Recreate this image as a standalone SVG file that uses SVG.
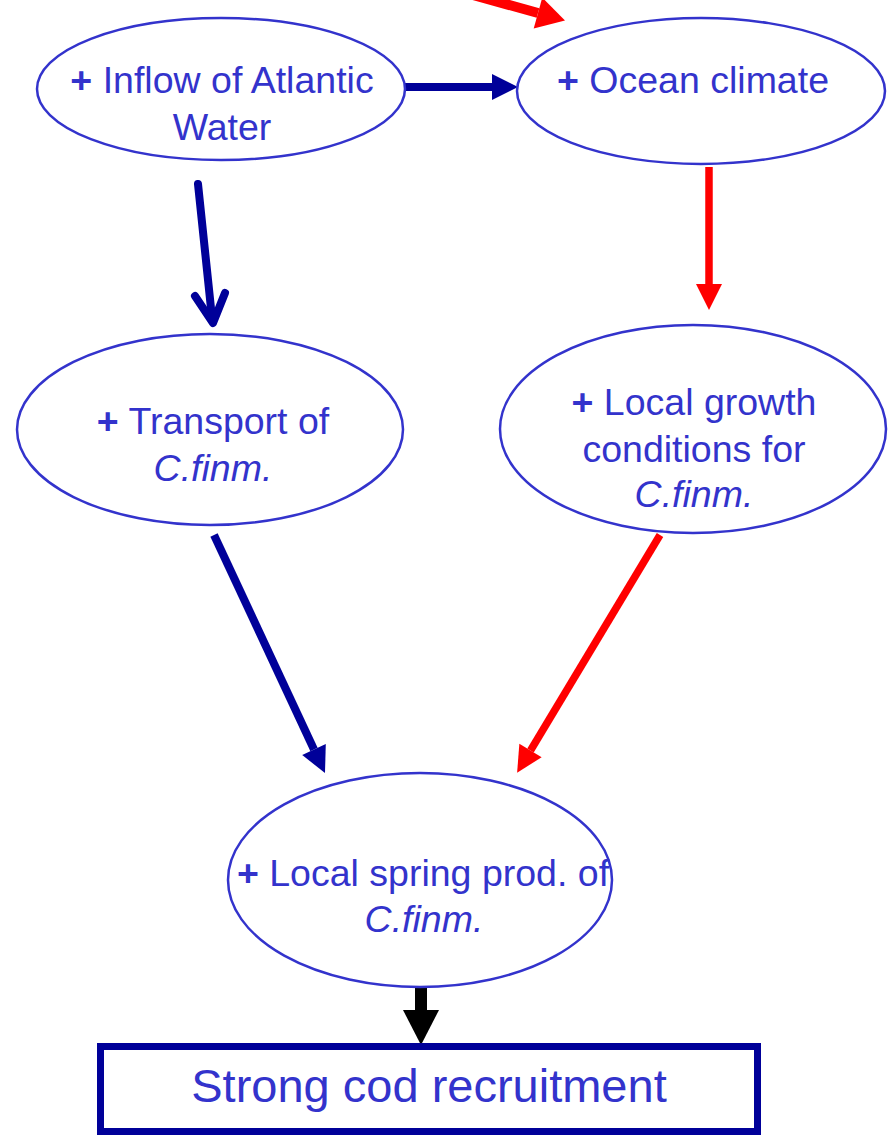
<svg xmlns="http://www.w3.org/2000/svg" width="895" height="1138" viewBox="0 0 895 1138">
<style>
.node ellipse{fill:#fff;stroke:#3333CC;stroke-width:2.5}
.t{font-family:"Liberation Sans",Arial,sans-serif;font-size:37.5px;fill:#3333CC;text-anchor:middle}
.p{font-weight:bold}
.i{font-style:italic}
.navy{stroke:#000099;stroke-width:8;fill:none}
.red{stroke:#FF0000;stroke-width:7.5;fill:none}
</style>
<defs>
<marker id="hNavy" markerUnits="userSpaceOnUse" orient="auto" markerWidth="40" markerHeight="40" refX="0" refY="14" viewBox="0 0 40 28" overflow="visible"><path d="M0,1 L26,14 L0,27 Z" fill="#000099"/></marker>
<marker id="hRed" markerUnits="userSpaceOnUse" orient="auto" markerWidth="40" markerHeight="40" refX="0" refY="14" viewBox="0 0 40 28" overflow="visible"><path d="M0,1 L26,14 L0,27 Z" fill="#FF0000"/></marker>
<marker id="hRedBig" markerUnits="userSpaceOnUse" orient="auto" markerWidth="40" markerHeight="40" refX="0" refY="16" viewBox="0 0 40 32" overflow="visible"><path d="M0,0 L28,16 L0,32 Z" fill="#FF0000"/></marker>
<marker id="hBlack" markerUnits="userSpaceOnUse" orient="auto" markerWidth="40" markerHeight="40" refX="0" refY="18" viewBox="0 0 40 36" overflow="visible"><path d="M0,0 L35,18 L0,36 Z" fill="#000"/></marker>
</defs>
<g id="connectors">
<line class="red" style="stroke-width:10" x1="466" y1="-7" x2="538" y2="13" marker-end="url(#hRedBig)"/>
<line class="navy" x1="405" y1="87" x2="492" y2="87" marker-end="url(#hNavy)"/>
<line class="navy" x1="198" y1="184" x2="212" y2="318" stroke-linecap="round"/>
<polyline class="navy" points="195,296 213,323 225,293" stroke-linecap="round" stroke-linejoin="round"/>
<line class="red" x1="709" y1="167" x2="709" y2="284" marker-end="url(#hRed)"/>
<line class="navy" x1="214" y1="535" x2="314" y2="749.5" marker-end="url(#hNavy)"/>
<line class="red" x1="660" y1="535" x2="530.5" y2="750.5" marker-end="url(#hRed)"/>
<line stroke="#000" stroke-width="12" x1="421" y1="982" x2="421" y2="1010" marker-end="url(#hBlack)"/>
</g>
<g id="inflow" class="node">
<ellipse cx="221" cy="89" rx="184" ry="71"/>
<text class="t" x="222" y="93"><tspan class="p">+</tspan> Inflow of Atlantic</text>
<text class="t" x="222" y="140">Water</text>
</g>
<g id="ocean" class="node">
<ellipse cx="701" cy="91" rx="184" ry="73"/>
<text class="t" x="693" y="93"><tspan class="p">+</tspan> Ocean climate</text>
</g>
<g id="transport" class="node">
<ellipse cx="210" cy="429.5" rx="193" ry="95.5"/>
<text class="t" x="213" y="434"><tspan class="p">+</tspan> Transport of</text>
<text class="t i" x="213" y="481">C.finm.</text>
</g>
<g id="growth" class="node">
<ellipse cx="693" cy="429" rx="193" ry="104"/>
<text class="t" x="694" y="415"><tspan class="p">+</tspan> Local growth</text>
<text class="t" x="694" y="462">conditions for</text>
<text class="t i" x="694" y="507">C.finm.</text>
</g>
<g id="spring" class="node">
<ellipse cx="420" cy="880" rx="192" ry="107"/>
<text class="t" x="423" y="886"><tspan class="p">+</tspan> Local spring prod. of</text>
<text class="t i" x="424" y="932">C.finm.</text>
</g>
<g id="recruitment">
<rect x="100.5" y="1046.5" width="657" height="85" fill="#fff" stroke="#000099" stroke-width="7"/>
<text class="t" x="429" y="1102" style="font-size:47px">Strong cod recruitment</text>
</g>
</svg>
